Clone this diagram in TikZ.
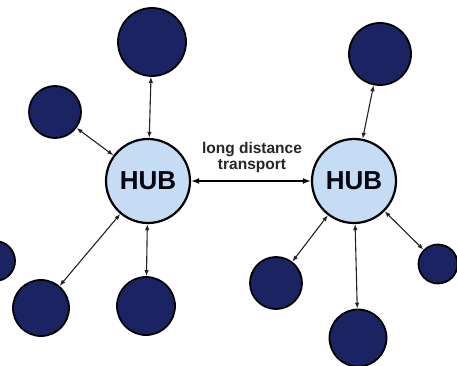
\documentclass[tikz,border=0pt]{standalone}
\usepackage{fontspec}
\setmainfont{Liberation Sans}
\usetikzlibrary{arrows.meta}
\definecolor{navy}{HTML}{1B2462}
\definecolor{hubblue}{HTML}{C6DBF4}
\definecolor{arrowgray}{HTML}{222222}
\tikzset{
  spoke/.style={circle, draw=black, line width=1.8pt, fill=navy, inner sep=0pt},
  hubnode/.style={circle, draw=black, line width=2.2pt, fill=hubblue, inner sep=0pt,
    minimum size=84pt, font=\bfseries\fontsize{26}{26}\selectfont, text=black!85!navy},
  link/.style={arrowgray, line width=1.1pt, {Latex[length=6pt,width=4.5pt]}-{Latex[length=6pt,width=4.5pt]}},
  trunk/.style={black, line width=2pt, {Latex[length=8pt,width=6pt]}-{Latex[length=8pt,width=6pt]}},
  lbl/.style={font=\bfseries\fontsize{15.5}{16}\selectfont, align=center, text=black!85}
}
\begin{document}
\begin{tikzpicture}[x=1pt,y=-1pt]
\useasboundingbox[fill=white] (0,0) rectangle (457,366);
% left hub and spokes
\node[hubnode] (hubL) at (148,181) {HUB};
\node[spoke, minimum size=68pt] (lt) at (152,42) {};
\node[spoke, minimum size=52pt] (ll) at (55,112) {};
\node[spoke, minimum size=40pt] (lfar) at (-5,261) {};
\node[spoke, minimum size=56pt] (lbl) at (41,308) {};
\node[spoke, minimum size=58pt] (lb) at (146,306) {};
% right hub and spokes
\node[hubnode] (hubR) at (354,181) {HUB};
\node[spoke, minimum size=62pt] (rt) at (380,54) {};
\node[spoke, minimum size=52pt] (rbl) at (276,283) {};
\node[spoke, minimum size=57pt] (rb) at (358,338) {};
\node[spoke, minimum size=39pt] (rr) at (438,264) {};
% connectors
\draw[link] (lt) -- (hubL);
\draw[link] (ll) -- (hubL);
\draw[link] (lbl) -- (hubL);
\draw[link] (lb) -- (hubL);
\draw[link] (rt) -- (hubR);
\draw[link] (rbl) -- (hubR);
\draw[link] (rb) -- (hubR);
\draw[link] (rr) -- (hubR);
\draw[trunk] (hubL) -- (hubR);
\node[lbl] (label) at (252,157) {long distance\\transport};
\end{tikzpicture}
\end{document}
